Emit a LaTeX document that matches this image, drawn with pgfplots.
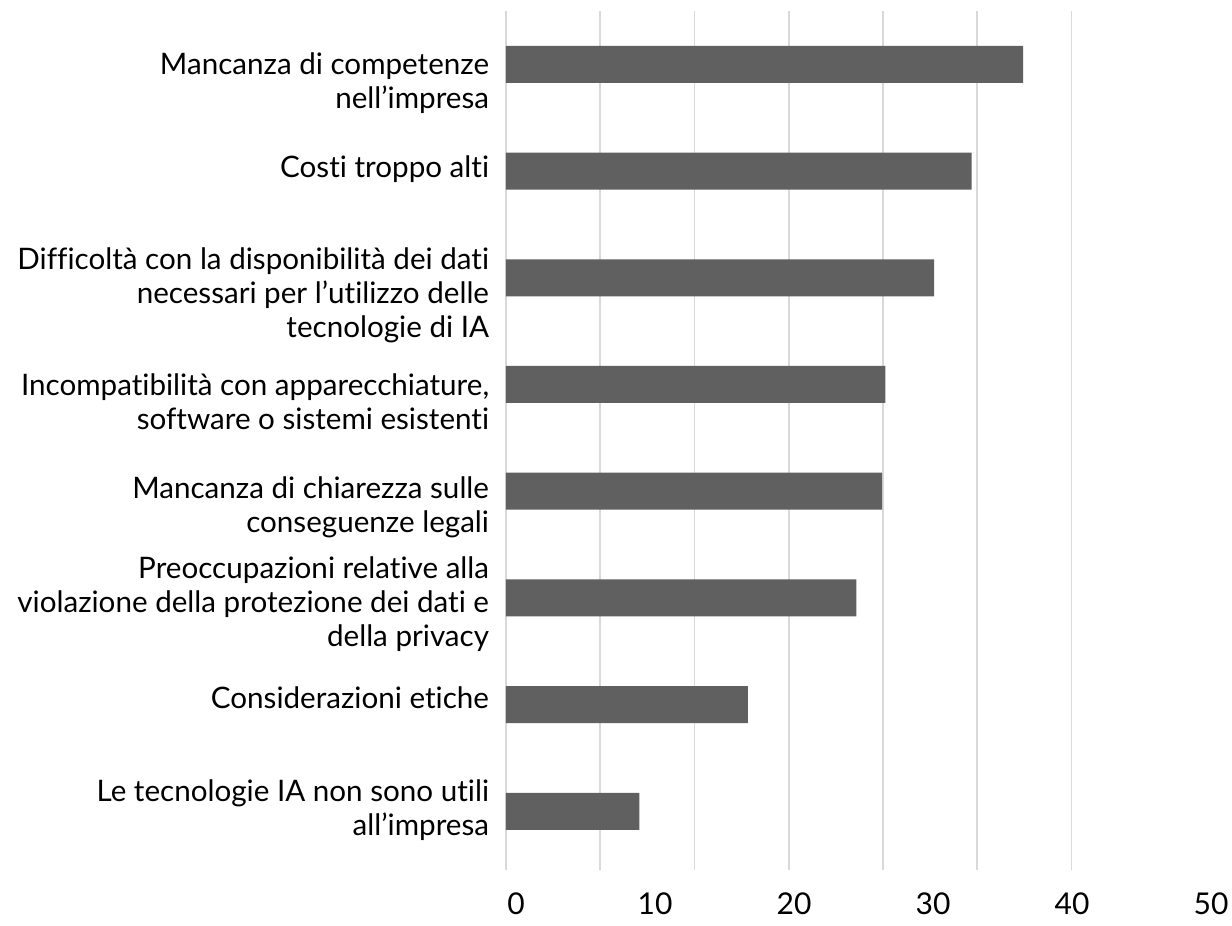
\documentclass[border=0pt]{standalone}
\usepackage{pgfplots}
\pgfplotsset{compat=1.18}
\usepackage{fontspec}
\setmainfont{Lato}[Ligatures=NoCommon]
\definecolor{barcol}{HTML}{606060}
\definecolor{gridcol}{HTML}{D9D9D9}
% label block moved so its centre sits #1 above the tick
\newcommand{\lab}[2]{\raisebox{\dimexpr#1-3.6pt\relax}[0pt][0pt]{\begin{tabular}[c]{@{}r@{}}#2\end{tabular}}}

\begin{document}
\begin{tikzpicture}
\begin{axis}[
    xbar,
    scale only axis,
    width=347.5pt,
    height=429.5pt,
    xmin=0, xmax=50,
    ymin=-0.5, ymax=7.55,
    y dir=reverse,
    bar width=18.5pt,
    axis line style={draw=none},
    tick style={draw=none},
    xtick={0,10,20,30,40,50},
    ytick={0,1,2,3,4,5,6,7},
    yticklabels={
        {\lab{-10pt}{Mancanza di competenze\\nell’impresa}},
        {\lab{0pt}{Costi troppo alti}},
        {\lab{-9.5pt}{Difficoltà con la disponibilità dei dati\\necessari per l’utilizzo delle\\tecnologie di IA}},
        {\lab{-10.5pt}{Incompatibilità con apparecchiature,\\software o sistemi esistenti}},
        {\lab{-9pt}{Mancanza di chiarezza sulle\\conseguenze legali}},
        {\lab{-4pt}{Preoccupazioni relative alla\\violazione della protezione dei dati e\\della privacy}},
        {\lab{1.5pt}{Considerazioni etiche}},
        {\lab{0pt}{Le tecnologie IA non sono utili\\all’impresa}}
    },
    yticklabel style={anchor=east, inner sep=0pt, xshift=-4pt,
        font=\fontsize{14.8}{17}\selectfont},
    xticklabel style={anchor=north, inner sep=0pt, xshift=5pt, yshift=-11pt,
        font=\fontsize{15}{18}\selectfont},
    /pgf/number format/assume math mode=true,
    extra x ticks={0,6.78,13.56,20.34,27.12,33.9,40.68},
    extra x tick labels={},
    extra x tick style={grid=major, major grid style={draw=gridcol, line width=0.8pt}},
]
\addplot[fill=barcol, draw=none] coordinates {
    (37.2,0) (33.5,1) (30.8,2) (27.3,3) (27.05,4) (25.2,5) (17.4,6) (9.6,7)
};
\end{axis}
\path ([shift={(-253pt,-27.5pt)}]current axis.south west) rectangle ([shift={(15.5pt,5.5pt)}]current axis.north east);
\end{tikzpicture}
\end{document}
